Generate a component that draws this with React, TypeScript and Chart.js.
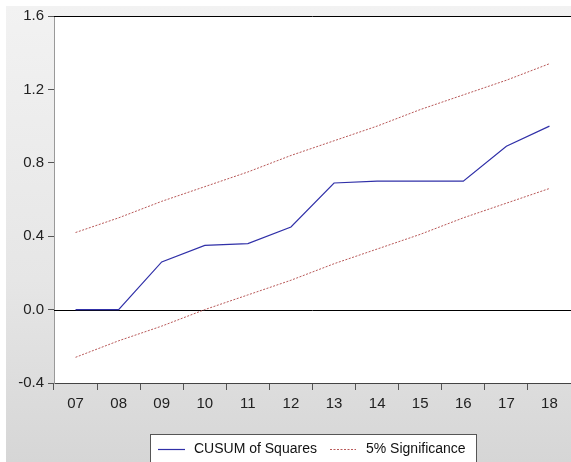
import React, { useEffect, useRef } from "react";
import { Chart, registerables } from "chart.js";

Chart.register(...registerables);

const years = ["07", "08", "09", "10", "11", "12", "13", "14", "15", "16", "17", "18"];
const cusum = [0, 0, 0.26, 0.35, 0.36, 0.45, 0.69, 0.7, 0.7, 0.7, 0.89, 1.0];
const upper = [0.42, 0.5, 0.59, 0.67, 0.75, 0.84, 0.92, 1.0, 1.09, 1.17, 1.25, 1.34];
const lower = [-0.26, -0.17, -0.09, 0.0, 0.08, 0.16, 0.25, 0.33, 0.41, 0.5, 0.58, 0.66];
const legendLabels = ["CUSUM of Squares", "5% Significance"];

const FONT = '"Liberation Sans", Arial, sans-serif';
const BLUE = "#3030a8";
const RED = "#b85858";

const framePlugin = {
  id: "frame",
  beforeDatasetsDraw(chart: any) {
    const { ctx, chartArea, scales } = chart;
    ctx.save();
    const y0 = Math.round(scales.y.getPixelForValue(0)) + 0.5;
    ctx.strokeStyle = "#000";
    ctx.lineWidth = 1;
    ctx.beginPath();
    ctx.moveTo(chartArea.left, y0);
    ctx.lineTo(chartArea.right, y0);
    ctx.stroke();
    ctx.restore();
  },
  beforeDraw(chart: any) {
    const { ctx, chartArea } = chart;
    ctx.save();
    ctx.fillStyle = "#ffffff";
    ctx.fillRect(chartArea.left, chartArea.top, chartArea.right - chartArea.left, chartArea.bottom - chartArea.top);
    ctx.restore();
  },
  afterDraw(chart: any) {
    const { ctx, chartArea } = chart;
    ctx.save();
    ctx.strokeStyle = "#000";
    ctx.lineWidth = 1;
    ctx.beginPath();
    ctx.moveTo(chartArea.left, Math.round(chartArea.top) + 0.5);
    ctx.lineTo(chartArea.right, Math.round(chartArea.top) + 0.5);
    ctx.stroke();

    const bx = 150.5, by = 434.5, bw = 326, bh = 40;
    ctx.fillStyle = "#ffffff";
    ctx.fillRect(bx, by, bw, bh);
    ctx.strokeStyle = "#555";
    ctx.strokeRect(bx, by, bw, bh);
    const ly = 449.5;
    ctx.strokeStyle = BLUE;
    ctx.lineWidth = 1.2;
    ctx.beginPath();
    ctx.moveTo(158, ly);
    ctx.lineTo(185, ly);
    ctx.stroke();
    ctx.strokeStyle = RED;
    ctx.lineWidth = 1;
    ctx.setLineDash([2, 1.5]);
    ctx.beginPath();
    ctx.moveTo(330, ly);
    ctx.lineTo(356, ly);
    ctx.stroke();
    ctx.setLineDash([]);
    ctx.fillStyle = "#111";
    ctx.font = `14px ${FONT}`;
    ctx.textBaseline = "middle";
    ctx.textAlign = "left";
    ctx.fillText(legendLabels[0], 194, ly);
    ctx.fillText(legendLabels[1], 366, ly);
    ctx.restore();
  },
};

export default function App() {
  const ref = useRef<HTMLCanvasElement>(null);
  useEffect(() => {
    if (!ref.current) return;
    const chart = new Chart(ref.current, {
      type: "line",
      data: {
        labels: years,
        datasets: [
          {
            label: legendLabels[0],
            data: cusum,
            borderColor: BLUE,
            borderWidth: 1.2,
            pointRadius: 0,
            tension: 0,
          },
          {
            label: legendLabels[1],
            data: upper,
            borderColor: RED,
            borderWidth: 1,
            borderDash: [2, 1.5],
            pointRadius: 0,
            tension: 0,
          },
          {
            label: legendLabels[1] + " lower",
            data: lower,
            borderColor: RED,
            borderWidth: 1,
            borderDash: [2, 1.5],
            pointRadius: 0,
            tension: 0,
          },
        ],
      },
      options: {
        animation: false,
        responsive: false,
        devicePixelRatio: 1,
        layout: { padding: { left: 0, right: 0, top: 16, bottom: 0 } },
        plugins: { legend: { display: false }, tooltip: { enabled: false } },
        scales: {
          x: {
            type: "category",
            offset: true,
            grid: {
              offset: true,
              drawOnChartArea: false,
              drawTicks: true,
              tickLength: 7,
              tickColor: "#555",
            },
            border: { display: true, color: "#444", width: 1 },
            ticks: {
              color: "#222",
              font: { family: FONT, size: 15 },
              padding: 5,
              maxRotation: 0,
              autoSkip: false,
            },
            afterFit(scale: any) {
              scale.height = 79;
            },
          },
          y: {
            min: -0.4,
            max: 1.6,
            grid: {
              drawOnChartArea: false,
              drawTicks: true,
              tickLength: 6,
              tickColor: "#555",
            },
            border: { display: true, color: "#999", width: 1 },
            ticks: {
              stepSize: 0.4,
              color: "#222",
              font: { family: FONT, size: 15 },
              padding: 4,
              callback: (v: any) => Number(v).toFixed(1),
            },
            afterFit(scale: any) {
              scale.width = 54;
            },
          },
        },
      },
      plugins: [framePlugin],
    });
    return () => chart.destroy();
  }, []);

  return (
    <div
      style={{
        position: "absolute",
        left: 0,
        top: 0,
        width: 571,
        height: 462,
        background: "#ffffff",
        overflow: "hidden",
      }}
    >
      <div
        style={{
          position: "absolute",
          left: 6,
          top: 6,
          width: 565,
          height: 456,
          background: "linear-gradient(#f2f2f2, #e6e6e6 60%, #d6d6d6)",
        }}
      />
      <canvas ref={ref} width={571} height={462} style={{ position: "absolute", left: 0, top: 0 }} />
    </div>
  );
}
